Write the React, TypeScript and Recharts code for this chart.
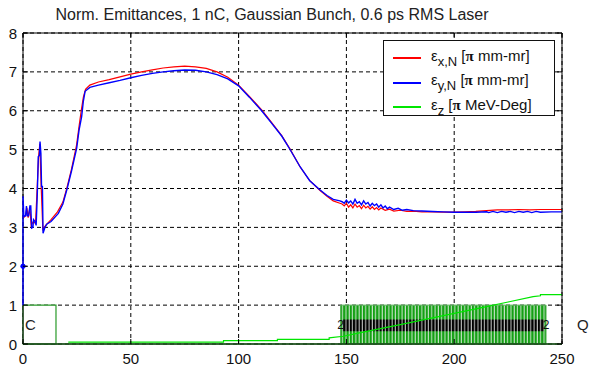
import {
  ComposedChart, Line, XAxis, YAxis, CartesianGrid, ReferenceArea,
  ReferenceDot, ReferenceLine, Legend,
} from "recharts";

const FONT = '"Liberation Sans", Arial, sans-serif';
const TITLE = "Norm. Emittances, 1 nC, Gaussian Bunch, 0.6 ps RMS Laser";

const X_TICKS = [0, 50, 100, 150, 200, 250];
const Y_TICKS = [0, 1, 2, 3, 4, 5, 6, 7, 8];

// [z, value] pairs
const emitX: [number, number][] = [
  [0.3, 3.25], [1.2, 3.3], [1.8, 3.5], [2.4, 3.25], [3.2, 3.5], [3.8, 3.05], [4.8, 3.15],
  [5.8, 3.1], [6.4, 3.8], [7.2, 4.8], [7.8, 5.15], [8.4, 4.1], [9.2, 2.95], [10.5, 3.05],
  [13, 3.2], [16, 3.4], [18.5, 3.65], [20.3, 4.0], [22.5, 4.5], [24.8, 5.1], [26, 5.6],
  [27, 6.0], [28, 6.35], [29, 6.55], [31, 6.66], [35, 6.74], [40, 6.8], [45, 6.87],
  [50, 6.94], [55, 7.0], [60, 7.05], [65, 7.1], [70, 7.13], [75, 7.15], [80, 7.13],
  [85, 7.09], [90, 7.0], [95, 6.86], [100, 6.66], [105, 6.37], [110.7, 6.02], [115, 5.72],
  [120, 5.36], [123.8, 5.02], [128.5, 4.56], [133, 4.2], [137.8, 3.95], [141, 3.8],
  [143.9, 3.68], [147, 3.62], [148, 3.6], [149, 3.55], [150, 3.62], [151, 3.52], [152, 3.58],
  [153, 3.5], [154, 3.6], [155, 3.52], [156, 3.56], [157, 3.48], [158, 3.57], [159, 3.5],
  [160, 3.54], [161, 3.47], [162, 3.53], [163, 3.46], [164, 3.51], [165, 3.45], [166, 3.5],
  [168, 3.44], [170, 3.47], [172, 3.42], [175, 3.44], [178, 3.41], [181, 3.42], [185, 3.4],
  [190, 3.4], [195, 3.39], [200, 3.39], [205, 3.4], [210, 3.41], [215, 3.43], [220, 3.45],
  [225, 3.45], [230, 3.46], [235, 3.45], [240, 3.46], [245, 3.46], [250, 3.46],
];

const emitY: [number, number][] = [
  [0, 1.0], [0, 2.0], [0, 3.8], [0.4, 3.28], [1.2, 3.3], [1.6, 3.55], [2.0, 3.3], [2.6, 3.3],
  [3.2, 3.55], [3.6, 3.55], [4.0, 2.98], [4.6, 3.0], [4.9, 3.2], [5.6, 3.15], [6.1, 3.05],
  [6.6, 3.8], [7.1, 4.82], [7.6, 4.85], [7.9, 5.21], [8.3, 4.9], [8.6, 4.05], [9.0, 4.05],
  [9.3, 2.85], [10.2, 3.0], [11, 3.08], [13, 3.15], [16.4, 3.36], [18.5, 3.6], [20.3, 3.96],
  [22.5, 4.45], [24.9, 5.04], [26, 5.5], [27.2, 5.85], [28, 6.25], [28.8, 6.5], [31, 6.6],
  [35, 6.66], [40, 6.72], [45, 6.78], [50, 6.85], [55, 6.91], [60, 6.96], [65, 7.0],
  [70, 7.03], [75, 7.05], [80, 7.04], [85, 7.0], [90, 6.93], [95, 6.82], [100, 6.64],
  [105, 6.35], [110.7, 6.0], [115, 5.7], [120, 5.35], [123.8, 5.01], [128.5, 4.56],
  [133, 4.2], [137.8, 3.96], [141, 3.82], [143.9, 3.72], [147, 3.68], [148, 3.66],
  [149, 3.62], [150, 3.7], [151, 3.63], [152, 3.68], [153, 3.6], [154, 3.72], [155, 3.62],
  [156, 3.66], [157, 3.58], [158, 3.68], [159, 3.6], [160, 3.64], [161, 3.55], [162, 3.62],
  [163, 3.56], [164, 3.6], [165, 3.52], [166, 3.58], [167, 3.5], [168, 3.55], [169, 3.48],
  [170, 3.52], [172, 3.46], [174, 3.49], [176, 3.44], [178, 3.46], [181, 3.43], [185, 3.42],
  [190, 3.41], [195, 3.4], [200, 3.39], [210, 3.39], [215, 3.4], [216, 3.38], [218, 3.41],
  [220, 3.38], [222, 3.41], [224, 3.39], [226, 3.41], [228, 3.38], [230, 3.41], [232, 3.39],
  [234, 3.41], [236, 3.38], [238, 3.41], [240, 3.39], [245, 3.4], [250, 3.4],
];

const emitZ: [number, number][] = [
  [21, 0.05], [93, 0.05], [93, 0.085], [118, 0.085], [118, 0.12], [142, 0.12], [142, 0.16],
  [148.6, 0.2], [160, 0.33], [175, 0.5], [190, 0.67], [200, 0.79], [215, 0.96], [225, 1.08],
  [236.6, 1.22], [240, 1.24], [240, 1.27], [250, 1.27],
];

// beamline elements drawn along the bottom
const cavityC = [0, 15.3];
const solenoidQ = [147.3, 242.6];
const ELEMENT_HEIGHT = 1;
const coreBand = [0.33, 0.63];

const pts = (a: [number, number][]) => a.map(([x, y]) => ({ x, y }));

const LEGEND_ROWS = [
  { sub: "x,N", unit: "mm-mr" },
  { sub: "y,N", unit: "mm-mr" },
  { sub: "z", unit: "MeV-Deg" },
];

function BottomTick({ x, y, payload }: any) {
  return (
    <g>
      <line x1={x} x2={x} y1={y} y2={y - 5} stroke="#000" />
      <text x={x} y={y + 20} textAnchor="middle" fontSize={15} fontFamily={FONT} fill="#111">
        {payload.value}
      </text>
    </g>
  );
}

function LeftTick({ x, y, payload }: any) {
  return (
    <g>
      <line x1={x} x2={x + 5} y1={y} y2={y} stroke="#000" />
      <text x={x - 6} y={y + 5.5} textAnchor="end" fontSize={15} fontFamily={FONT} fill="#111">
        {payload.value}
      </text>
    </g>
  );
}

const TopTick = ({ x, y }: any) => <line x1={x} x2={x} y1={y} y2={y + 5} stroke="#000" />;
const RightTick = ({ x, y }: any) => <line x1={x} x2={x - 5} y1={y} y2={y} stroke="#000" />;

function EmitLegend({ payload }: any) {
  return (
    <div style={{
      width: 172, height: 76, boxSizing: "border-box", border: "1px solid #111",
      background: "#fff", position: "relative", fontFamily: FONT, fontSize: 15, color: "#111",
    }}>
      {LEGEND_ROWS.map((r, i) => (
        <div key={i} style={{
          position: "absolute", left: 0, top: 15 + i * 24.5 - 10, height: 24,
          display: "flex", alignItems: "center",
        }}>
          <span style={{ display: "inline-block", marginLeft: 9, width: 28, height: 2, background: payload?.[i]?.color }} />
          <span style={{ marginLeft: 10, whiteSpace: "nowrap", lineHeight: "15px" }}>
            ε<sub style={{ fontSize: 13, verticalAlign: -5 }}>{r.sub}</sub>{" "}
            [<b style={{ fontFamily: '"Liberation Serif", serif' }}>π</b> {r.unit}]
          </span>
        </div>
      ))}
    </div>
  );
}

export default function App() {
  return (
    <div style={{ position: "absolute", left: 0, top: 0, width: 590, height: 368, background: "#fff" }}>
      <div style={{
        position: "absolute", left: 0, top: 6, width: 544, textAlign: "center",
        fontFamily: FONT, fontSize: 16, color: "#222", lineHeight: "18px", whiteSpace: "nowrap",
      }}>
        {TITLE}
      </div>
      <ComposedChart width={590} height={368} margin={{ top: 3, right: 0, bottom: 0, left: 0 }}>
        <defs>
          <pattern id="qStripes" width={3.3} height={10} patternUnits="userSpaceOnUse">
            <rect width={3.3} height={10} fill="#c4e2c4" />
            <rect width={2.2} height={10} fill="#14a014" />
          </pattern>
          <pattern id="coreStripes" width={3.3} height={10} patternUnits="userSpaceOnUse">
            <rect width={3.3} height={10} fill="#b8b8b8" />
            <rect width={2.2} height={10} fill="#000" />
          </pattern>
        </defs>
        <CartesianGrid stroke="#000" strokeDasharray="4 3" />
        <XAxis type="number" dataKey="x" domain={[0, 250]} ticks={X_TICKS} height={24}
          tickSize={0} tickMargin={0} tick={<BottomTick />} axisLine={{ stroke: "#000" }} />
        <XAxis xAxisId="top" orientation="top" type="number" dataKey="x" domain={[0, 250]} ticks={X_TICKS}
          height={30} tickSize={0} tickMargin={0} tick={<TopTick />} axisLine={{ stroke: "#000" }} allowDataOverflow />
        <YAxis type="number" domain={[0, 8]} ticks={Y_TICKS} width={23}
          tickSize={0} tickMargin={0} tick={<LeftTick />} axisLine={false} />
        <YAxis yAxisId="right" orientation="right" type="number" domain={[0, 8]} ticks={Y_TICKS} width={28}
          tickSize={0} tickMargin={0} tick={<RightTick />} axisLine={{ stroke: "#000" }} allowDataOverflow />
        <ReferenceLine x={0} stroke="#000" strokeWidth={1} />

        <ReferenceArea x1={cavityC[0]} x2={cavityC[1]} y1={0} y2={ELEMENT_HEIGHT}
          fill="#fff" fillOpacity={1} stroke="#2a9a2a" strokeWidth={1.2}
          label={{ value: "C", position: "insideLeft", offset: 2, fontSize: 15, fontFamily: FONT, fill: "#222" }} />
        <ReferenceArea x1={solenoidQ[0]} x2={solenoidQ[1]} y1={0} y2={ELEMENT_HEIGHT}
          fill="url(#qStripes)" fillOpacity={1} stroke="#55b055" strokeWidth={1} />
        <ReferenceArea x1={solenoidQ[0] + 1} x2={solenoidQ[1] - 1} y1={coreBand[0]} y2={coreBand[1]}
          fill="url(#coreStripes)" fillOpacity={1} stroke="none" />
        <ReferenceDot x={solenoidQ[0]} y={0.5} r={0} ifOverflow="visible"
          label={{ value: "2", position: "center", fontSize: 12, fontFamily: FONT, fill: "#111" }} />
        <ReferenceDot x={solenoidQ[1]} y={0.5} r={0} ifOverflow="visible"
          label={{ value: "2", position: "center", fontSize: 12, fontFamily: FONT, fill: "#111" }} />
        <ReferenceDot x={250} y={0.5} r={0} ifOverflow="visible"
          label={{ value: "Q", position: "right", offset: 15, fontSize: 15, fontFamily: FONT, fill: "#222" }} />
        <ReferenceLine y={0} stroke="#3cb43c" strokeWidth={1.5} />

        <Line data={pts(emitX)} dataKey="y" name="εx,N" type="linear" stroke="#ff0000"
          strokeWidth={1.2} dot={false} isAnimationActive={false} />
        <Line data={pts(emitY)} dataKey="y" name="εy,N" type="linear" stroke="#0000ff"
          strokeWidth={1.4} dot={false} isAnimationActive={false} />
        <Line data={pts(emitZ)} dataKey="y" name="εz" type="linear" stroke="#00e600"
          strokeWidth={1.2} dot={false} isAnimationActive={false} />
        <ReferenceDot x={0} y={2} r={2.2} fill="#0000ff" stroke="#0000ff" ifOverflow="visible" />

        <Legend layout="horizontal" verticalAlign="middle" align="center" content={<EmitLegend />}
          wrapperStyle={{ position: "absolute", left: 383, top: 40, width: 172, height: 76 }} />
      </ComposedChart>
    </div>
  );
}
